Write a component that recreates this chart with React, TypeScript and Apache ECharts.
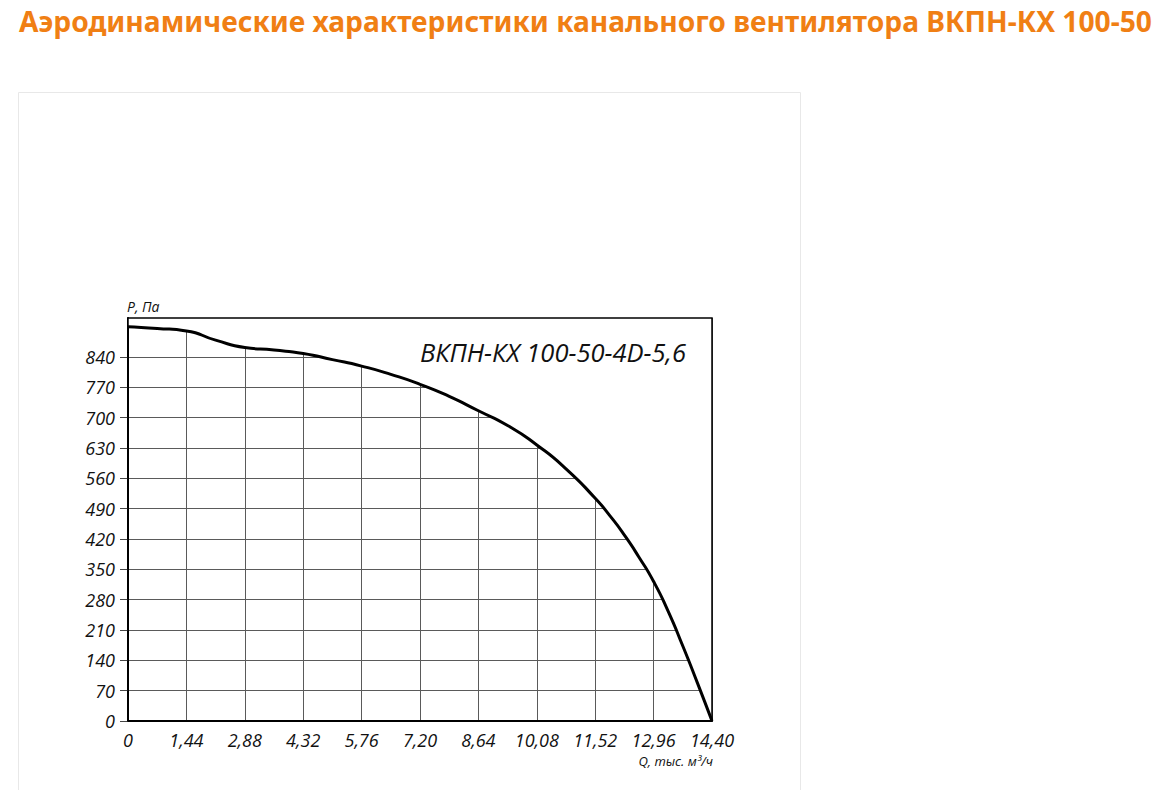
import { useEffect, useRef } from "react";
import * as echarts from "echarts";

const titleText = "Аэродинамические характеристики канального вентилятора ВКПН-КХ 100-50";
const modelName = "ВКПН-КХ 100-50-4D-5,6";
const yAxisName = "P, Па";
const xAxisName = "Q, тыс. м³/ч";

const flowQ = [0, 0.72, 1.44, 2.16, 2.88, 3.6, 4.32, 5.04, 5.76, 6.48, 7.2, 7.92, 8.64, 9.36, 10.08, 10.8, 11.52, 11.88, 12.24, 12.6, 12.96, 13.32, 13.68, 14.04, 14.4];
const pressureP = [910, 906, 900, 879, 862, 856, 848, 834, 819, 800, 777, 749, 716, 682, 637, 582, 514, 474, 429, 378, 322, 253, 173, 88, 0];

const xTickLabels = ["0", "1,44", "2,88", "4,32", "5,76", "7,20", "8,64", "10,08", "11,52", "12,96", "14,40"];
const yTickValues = [0, 70, 140, 210, 280, 350, 420, 490, 560, 630, 700, 770, 840];
const yTickLabels = ["0", "70", "140", "210", "280", "350", "420", "490", "560", "630", "700", "770", "840"];

const labelFont = "'Open Sans', sans-serif";

export default function App() {
  const ref = useRef<HTMLDivElement>(null);
  useEffect(() => {
    if (!ref.current) return;
    const chart = echarts.init(ref.current, null, { renderer: "svg" });
    const curve = flowQ.map((q, i) => [q, pressureP[i]]);
    chart.setOption({
      animation: false,
      backgroundColor: "#ffffff",
      grid: {
        left: 128,
        right: 462,
        top: 318,
        bottom: 69,
        show: true,
        borderColor: "#000",
        borderWidth: 1.5,
        backgroundColor: "transparent",
        z: 20,
      },
      graphic: [
        {
          type: "rect",
          z: -10,
          shape: { x: 18.5, y: 92.5, width: 782, height: 760 },
          style: { fill: "#fff", stroke: "#e8e8e8", lineWidth: 1 },
        },
        {
          type: "text",
          x: 19,
          y: 21,
          style: {
            text: titleText,
            fill: "#f07f14",
            font: "bold 28.2px 'Noto Sans', sans-serif",
            textVerticalAlign: "middle",
            textAlign: "left",
          },
        },
        {
          type: "text",
          x: 686,
          y: 352,
          z: 30,
          style: {
            text: modelName,
            fill: "#111",
            font: "italic 25.5px 'Open Sans', sans-serif",
            textAlign: "right",
            textVerticalAlign: "middle",
          },
        },
        {
          type: "text",
          x: 127,
          y: 306,
          style: {
            text: yAxisName,
            fill: "#111",
            font: "italic 14px " + labelFont,
            textAlign: "left",
            textVerticalAlign: "middle",
          },
        },
        {
          type: "text",
          x: 713,
          y: 761,
          style: {
            text: xAxisName,
            fill: "#111",
            font: "italic 13px " + labelFont,
            textAlign: "right",
            textVerticalAlign: "middle",
          },
        },
      ],
      xAxis: {
        type: "value",
        min: 0,
        max: 14.4,
        interval: 1.44,
        z: 0,
        axisLine: { show: true, onZero: false, lineStyle: { color: "#000", width: 2 } },
        axisTick: { show: false },
        axisLabel: {
          margin: 10,
          color: "#111",
          fontSize: 18,
          fontStyle: "italic",
          fontFamily: labelFont,
          formatter: (v: number) => xTickLabels[Math.round(v / 1.44)] ?? "",
        },
        splitLine: { show: true, lineStyle: { color: "#5a5a5a", width: 1 } },
      },
      yAxis: {
        type: "value",
        min: 0,
        max: 930,
        interval: 70,
        z: 0,
        axisLine: { show: true, onZero: false, lineStyle: { color: "#000", width: 2 } },
        axisTick: {
          show: true,
          length: 8,
          customValues: yTickValues,
          lineStyle: { color: "#444", width: 1 },
        },
        axisLabel: {
          margin: 13,
          color: "#111",
          fontSize: 18,
          fontStyle: "italic",
          fontFamily: labelFont,
          customValues: yTickValues,
          formatter: (v: number) => {
            const i = yTickValues.indexOf(v);
            return i >= 0 ? yTickLabels[i] : "";
          },
        },
        splitLine: { show: true, lineStyle: { color: "#5a5a5a", width: 1 } },
      },
      series: [
        {
          type: "line",
          data: curve,
          smooth: 0.6,
          symbol: "none",
          z: 10,
          lineStyle: { color: "#000", width: 3 },
          areaStyle: { color: "#ffffff", opacity: 1, origin: "end" },
        },
      ],
    });
    return () => chart.dispose();
  }, []);
  return (
    <div
      ref={ref}
      style={{ position: "absolute", left: 0, top: 0, width: 1174, height: 790 }}
    />
  );
}
